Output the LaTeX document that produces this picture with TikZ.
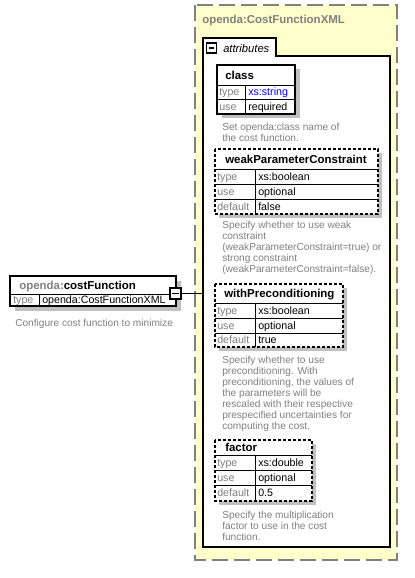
\documentclass[tikz,border=0pt]{standalone}
\usepackage{fontspec}
\setmainfont{Liberation Sans}
\definecolor{ylw}{HTML}{FFFFCC}
\definecolor{brd}{HTML}{808080}
\definecolor{shd}{HTML}{C0C0C0}
\definecolor{gtx}{HTML}{808080}
\definecolor{lnk}{HTML}{0000FF}
\tikzset{
 px/.style={x=0.75pt,y=-0.75pt},
 ttl/.style={anchor=base west, inner sep=0pt, font=\fontsize{8.6}{10}\selectfont\bfseries},
 lbl/.style={anchor=base west, inner sep=0pt, font=\fontsize{8}{10}\selectfont, text=gtx},
 val/.style={anchor=base west, inner sep=0pt, font=\fontsize{8}{10}\selectfont, text=black},
 dsc/.style={anchor=base west, inner sep=0pt, font=\fontsize{7.6}{9}\selectfont, text=gtx},
 optbox/.style={draw=black, line width=0.9pt, dash pattern=on 2.25pt off 1.5pt, fill=white},
 reqbox/.style={draw=black, line width=0.9pt, fill=white},
 gridline/.style={draw=black, line width=0.75pt},
 shadowbox/.style={fill=shd},
 minbox/.style={draw=black, fill=white, line width=1.2pt, minimum size=8.25pt, inner sep=0pt,
   path picture={\draw[line width=1pt] ([xshift=1.8pt]path picture bounding box.west) -- ([xshift=-1.8pt]path picture bounding box.east);}},
}
\newcommand{\desclines}[4]{%
  \foreach \dline [count=\i from 0] in {#4} {\node[dsc] (#1-\i) at (#2,#3+\i*11) {\dline};}}
\begin{document}
\begin{tikzpicture}[px]
\useasboundingbox (0,0) rectangle (414,578);
% complex type container
\fill[ylw] (195,5) rectangle (397,560);
\draw[brd, line width=1.5pt, dash pattern=on 12pt off 4.5pt] (195,5) rectangle (397,560);
\node[ttl, text=gtx] (ytitle) at (202,23) {openda:CostFunctionXML};
% attributes group with tab
\fill[white] (203,38) rectangle (276,56) (203,56) rectangle (390,547);
\draw[line width=1.2pt] (203,547) -- (203,38) -- (276,38) -- (276,56) -- (390,56) -- (390,547) -- cycle;
\coordinate (attl) at (203,56);
\node[minbox, line width=0.9pt, minimum size=7.5pt] (tabm) at (211.5,48) {};
\node[anchor=base west, inner sep=0pt, font=\fontsize{8.4}{10}\selectfont\itshape] (tabt) at (223,52) {attributes};
% class
\fill[shadowbox] (222,69) rectangle (300,118);
\draw[reqbox] (217,65) rectangle (295,114);
\draw[gridline] (217,85) -- (295,85) (217,99) -- (295,99) (245,85) -- (245,114);
\node[ttl] (c-t) at (225,79) {class};
\node[lbl] (c-l1) at (219,95.5) {type};
\node[val, text=lnk] (c-v1) at (248,95.5) {xs:string};
\node[lbl] (c-l2) at (219,110) {use};
\node[val] (c-v2) at (248,110) {required};
\desclines{cd}{222}{130.5}{Set openda:class name of,the cost function.}
% weakParameterConstraint
\fill[shadowbox] (219,153) rectangle (382,218);
\draw[optbox] (215,149) rectangle (378,214);
\draw[gridline] (215,169) -- (378,169) (215,184) -- (378,184) (215,199) -- (378,199) (255,169) -- (255,214);
\node[ttl] (w-t) at (225,163.5) {weakParameterConstraint};
\node[lbl] (w-l1) at (217,180) {type};
\node[val] (w-v1) at (258,180) {xs:boolean};
\node[lbl] (w-l2) at (217,195) {use};
\node[val] (w-v2) at (258,195) {optional};
\node[lbl] (w-l3) at (217,210) {default};
\node[val] (w-v3) at (258,210) {false};
\desclines{wd}{222}{228}{Specify whether to use weak,constraint,(weakParameterConstraint=true) or,strong constraint,(weakParameterConstraint=false).}
% withPreconditioning
\fill[shadowbox] (219,288) rectangle (347,351);
\draw[optbox] (215,284) rectangle (343,347);
\draw[gridline] (215,303) -- (343,303) (215,318) -- (343,318) (215,333) -- (343,333) (255,303) -- (255,347);
\node[ttl] (p-t) at (224,297.5) {withPreconditioning};
\node[lbl] (p-l1) at (217,314) {type};
\node[val] (p-v1) at (258,314) {xs:boolean};
\node[lbl] (p-l2) at (217,329) {use};
\node[val] (p-v2) at (258,329) {optional};
\node[lbl] (p-l3) at (217,343.5) {default};
\node[val] (p-v3) at (258,343.5) {true};
\desclines{pd}{222}{363.5}{Specify whether to use,preconditioning. With,{preconditioning, the values of},the parameters will be,rescaled with their respective,prespecified uncertainties for,computing the cost.}
% factor
\fill[shadowbox] (219,444) rectangle (316,505);
\draw[optbox] (215,440) rectangle (312,501);
\draw[gridline] (215,455) -- (312,455) (215,470) -- (312,470) (215,485) -- (312,485) (255,455) -- (255,501);
\node[ttl] (f-t) at (225,451.5) {factor};
\node[lbl] (f-l1) at (217,466) {type};
\node[val] (f-v1) at (258,466) {xs:double};
\node[lbl] (f-l2) at (217,481) {use};
\node[val] (f-v2) at (258,481) {optional};
\node[lbl] (f-l3) at (217,496.5) {default};
\node[val] (f-v3) at (258,496.5) {0.5};
\desclines{fd}{222}{518.5}{Specify the multiplication,factor to use in the cost,function.}
% element costFunction
\fill[shadowbox] (15,281) rectangle (181,311);
\draw[reqbox] (10,276) rectangle (176,306);
\draw[gridline] (10,294) -- (176,294) (39,294) -- (39,306);
\node[ttl] (cf-t) at (19,289) {\textcolor{gtx}{openda:}costFunction};
\node[lbl] (cf-l) at (13,303.5) {type};
\node[val] (cf-v) at (42,303.5) {openda:CostFunctionXML};
\node[dsc] (cf-d) at (15,326.5) {Configure cost function to minimize};
\node[minbox] (cfm) at (175.5,293.5) {};
\draw[line width=0.9pt] (cfm.east) -- (cfm.east -| attl);
\end{tikzpicture}
\end{document}
